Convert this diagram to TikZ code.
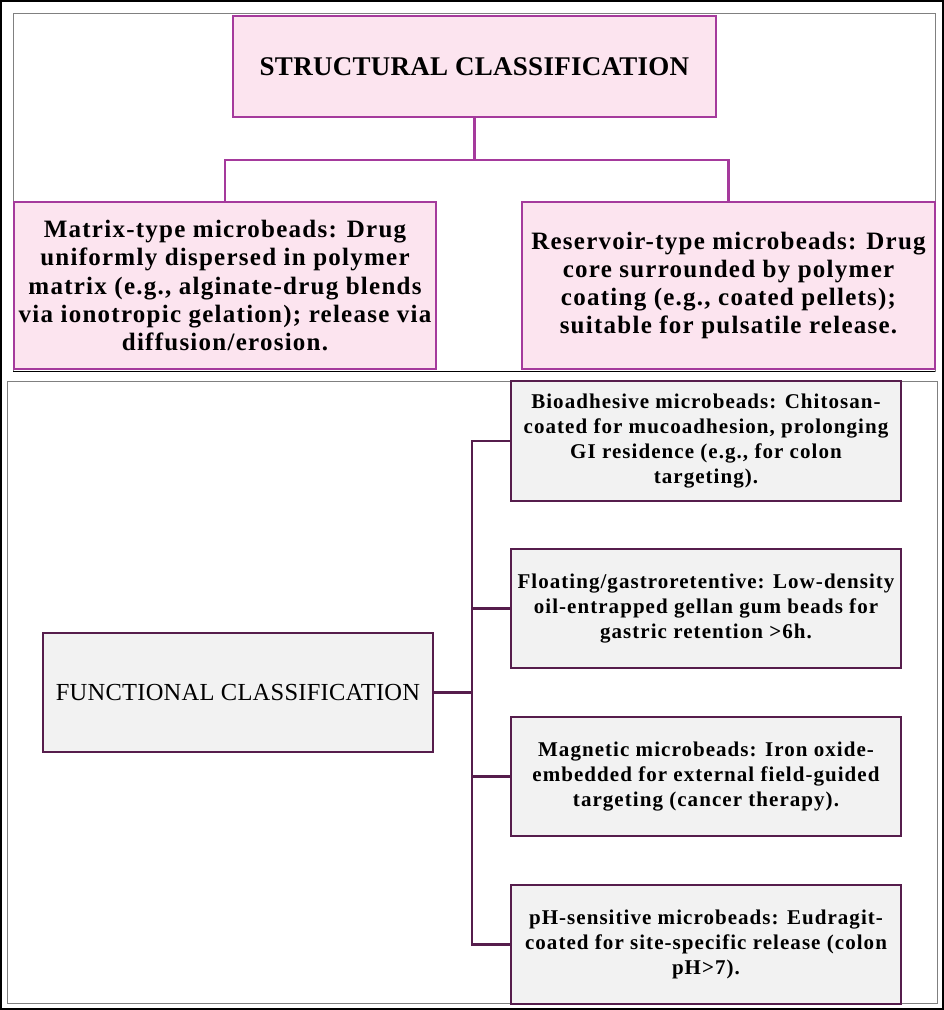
\documentclass[tikz,border=0pt]{standalone}
\usepackage{fontspec}
\setmainfont{Liberation Serif}
\definecolor{pinkfill}{HTML}{FCE4EF}
\definecolor{pinkline}{HTML}{A53A9C}
\definecolor{grayfill}{HTML}{F2F2F2}
\definecolor{darkline}{HTML}{561D4C}
\definecolor{panelgray}{HTML}{808080}
\tikzset{
  pinkbox/.style={draw=pinkline, line width=2.5pt, fill=pinkfill, align=center, inner sep=0pt},
  graybox/.style={draw=darkline, line width=2.5pt, fill=grayfill, align=center, inner sep=0pt},
  toptext/.style={font=\fontsize{25}{28.3}\selectfont\bfseries\addfontfeature{LetterSpace=5}},
  subtext/.style={font=\fontsize{21}{24.8}\selectfont\bfseries\addfontfeature{LetterSpace=5}},
  pinkconn/.style={draw=pinkline, line width=2.5pt},
  darkconn/.style={draw=darkline, line width=2.5pt},
  panel/.style={draw=panelgray, line width=1pt},
}
\begin{document}
\begin{tikzpicture}[x=1pt, y=-1pt]
\useasboundingbox (0,0) rectangle (944,1010);
\draw[black, line width=2pt] (1,1) rectangle (943,1009);
% top panel
\draw[panel] (13,13) rectangle (935,371);
\draw[black, line width=1pt] (13,371) -- (935,371);
% bottom panel
\draw[panel] (7,381) rectangle (937,1003);

\node[pinkbox, minimum width=483pt, minimum height=101pt,
  font=\fontsize{27}{30}\selectfont\bfseries\addfontfeature{LetterSpace=1}] (struct) at (474.5,66.5)
  {STRUCTURAL CLASSIFICATION};
\node[pinkbox, toptext, minimum width=422pt, minimum height=167pt] (matrix) at (225,285.5)
  {Matrix-type microbeads: Drug\\ uniformly dispersed in polymer\\ matrix (e.g., alginate-drug blends\\ via ionotropic gelation); release via\\ diffusion/erosion.};
\node[pinkbox, toptext, minimum width=413pt, minimum height=167pt] (reservoir) at (728.5,285.5)
  {Reservoir-type microbeads: Drug\\ core surrounded by polymer\\ coating (e.g., coated pellets);\\ suitable for pulsatile release.};
\coordinate (hub) at (474.5,160);
\draw[pinkconn] (struct.south) -- (hub);
\draw[pinkconn] (hub) -| (matrix.north);
\draw[pinkconn] (hub) -| (reservoir.north);

\node[graybox, minimum width=390pt, minimum height=119pt,
  font=\fontsize{24.5}{28}\selectfont\addfontfeature{LetterSpace=1}] (func) at (238,692.5)
  {FUNCTIONAL CLASSIFICATION};
\node[graybox, subtext, minimum width=390pt, minimum height=120pt] (b1) at (706,441)
  {Bioadhesive microbeads: Chitosan-\\ coated for mucoadhesion, prolonging\\ GI residence (e.g., for colon\\ targeting).};
\node[graybox, subtext, minimum width=390pt, minimum height=119pt] (b2) at (706,608.5)
  {Floating/gastroretentive: Low-density\\ oil-entrapped gellan gum beads for\\ gastric retention >6h.};
\node[graybox, subtext, minimum width=390pt, minimum height=119pt] (b3) at (706,776.5)
  {Magnetic microbeads: Iron oxide-\\ embedded for external field-guided\\ targeting (cancer therapy).};
\node[graybox, subtext, minimum width=390pt, minimum height=119pt] (b4) at (706,944.5)
  {pH-sensitive microbeads: Eudragit-\\ coated for site-specific release (colon\\ pH>7).};
\coordinate (tx) at (472,692.5);
\draw[darkconn] (func.east) -- (tx);
\draw[darkconn] (b1.west) -| (tx);
\draw[darkconn] (b4.west) -| (tx);
\draw[darkconn] (b2.west) -- (b2.west -| tx);
\draw[darkconn] (b3.west) -- (b3.west -| tx);
\end{tikzpicture}
\end{document}
